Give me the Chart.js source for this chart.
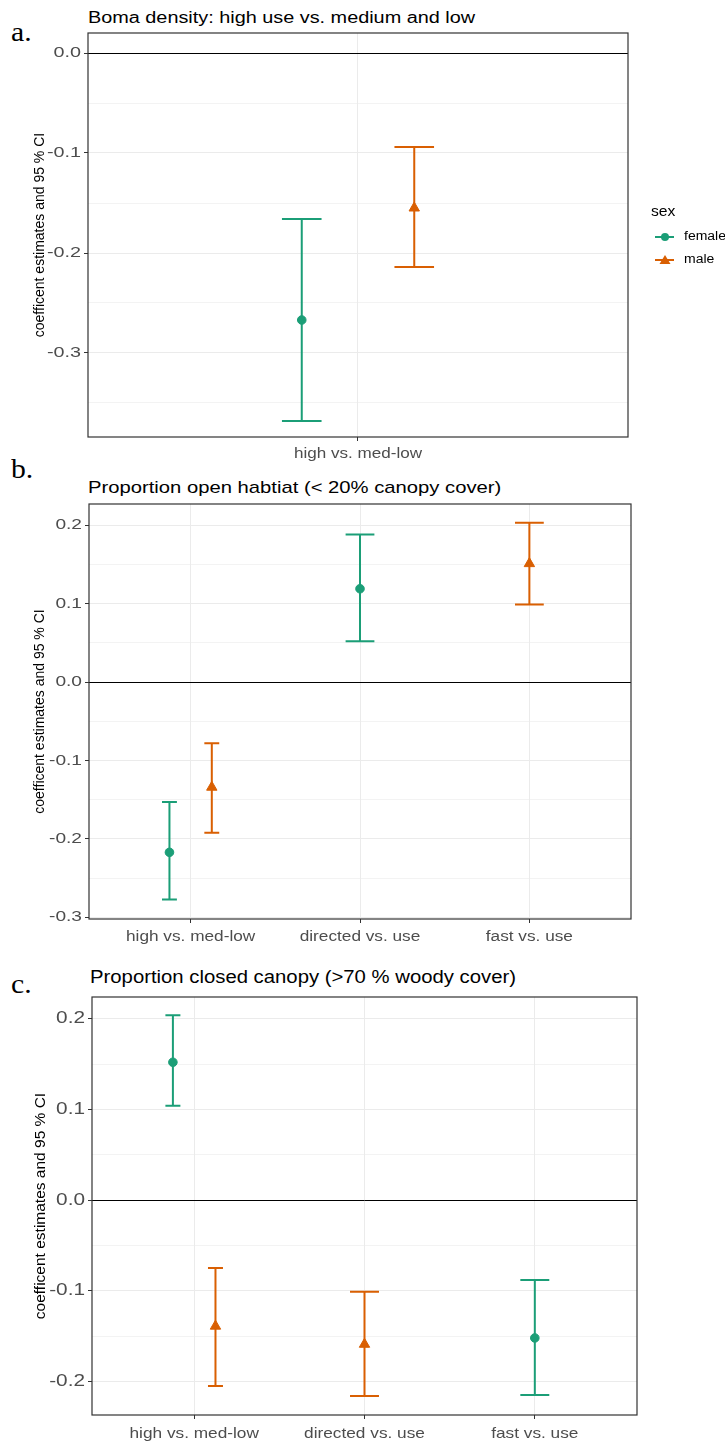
<!DOCTYPE html>
<html><head><meta charset="utf-8">
<script src="https://cdn.jsdelivr.net/npm/chart.js@4.4.1/dist/chart.umd.min.js"></script>
<style>
html,body{margin:0;padding:0;background:#fff;width:725px;height:1445px;overflow:hidden;position:relative;}
canvas{position:absolute;left:0;}
.lbl{position:absolute;font-family:'Liberation Serif','Times New Roman',serif;color:#000;line-height:1;transform-origin:0 0;transform:scaleX(1.1);}
.ttl{position:absolute;font-family:'Liberation Sans',Arial,sans-serif;color:#000;line-height:1;white-space:nowrap;transform-origin:0 0;}
</style></head><body>
<div class="lbl" style="left:11px;top:19px;font-size:27px">a.</div>
<div class="ttl" style="left:88px;top:10px;font-size:16px;transform:scaleX(1.24)">Boma density: high use vs. medium and low</div>
<div class="lbl" style="left:11px;top:456px;font-size:27px">b.</div>
<div class="ttl" style="left:88px;top:479px;font-size:17px;transform:scaleX(1.19)">Proportion open habtiat (&lt; 20% canopy cover)</div>
<div class="lbl" style="left:11px;top:971px;font-size:27px">c.</div>
<div class="ttl" style="left:90px;top:969px;font-size:17.5px;transform:scaleX(1.16)">Proportion closed canopy (&gt;70 % woody cover)</div>
<canvas id="ca" style="top:0" width="725" height="470"></canvas>
<canvas id="cb" style="top:470px" width="725" height="490"></canvas>
<canvas id="cc" style="top:960px" width="725" height="485"></canvas>
<script>
// ---------- data ----------
const catsA = ['high vs. med-low'];
const catsB = ['high vs. med-low', 'directed vs. use', 'fast vs. use'];
const catsC = ['high vs. med-low', 'directed vs. use', 'fast vs. use'];
const yTicksA = [-0.3, -0.2, -0.1, 0.0];
const yTicksB = [-0.3, -0.2, -0.1, 0.0, 0.1, 0.2];
const yTicksC = [-0.2, -0.1, 0.0, 0.1, 0.2];
const yRangeA = [-0.384, 0.020];
const yRangeB = [-0.302, 0.227];
const yRangeC = [-0.237, 0.224];
const seriesNames = ['female', 'male'];

// panel a: Boma density
const aFemaleCat = [0];
const aFemaleEst = [-0.267];
const aFemaleLo  = [-0.368];
const aFemaleHi  = [-0.166];
const aMaleCat = [0];
const aMaleEst = [-0.155];
const aMaleLo  = [-0.214];
const aMaleHi  = [-0.094];

// panel b: proportion open habitat
const bFemaleCat = [0, 1];
const bFemaleEst = [-0.217, 0.119];
const bFemaleLo  = [-0.277, 0.052];
const bFemaleHi  = [-0.153, 0.188];
const bMaleCat = [0, 2];
const bMaleEst = [-0.134, 0.151];
const bMaleLo  = [-0.192, 0.099];
const bMaleHi  = [-0.078, 0.203];

// panel c: proportion closed canopy
const cFemaleCat = [0, 2];
const cFemaleEst = [0.152, -0.152];
const cFemaleLo  = [0.104, -0.215];
const cFemaleHi  = [0.204, -0.088];
const cMaleCat = [0, 1];
const cMaleEst = [-0.139, -0.159];
const cMaleLo  = [-0.205, -0.216];
const cMaleHi  = [-0.075, -0.101];

// ---------- styling ----------
const GREEN = '#1B9E77', ORANGE = '#D95F02';
const SANS = "'Liberation Sans', Arial, sans-serif";
const AXIS_TITLE = 'coefficent estimates and 95 % CI';

// horizontally stretched text (the reference figure is widened)
const origFill = CanvasRenderingContext2D.prototype.fillText;
CanvasRenderingContext2D.prototype.fillText = function (text, x, y, maxWidth) {
  const st = this.__stretch;
  const m = this.getTransform();
  if (!st || Math.abs(m.b) > 1e-6 || Math.abs(m.c) > 1e-6) {
    return maxWidth === undefined ? origFill.call(this, text, x, y) : origFill.call(this, text, x, y, maxWidth);
  }
  const f = st[this.textAlign] || st.left;
  this.save(); this.translate(x, y); this.scale(f, 1);
  if (maxWidth === undefined) origFill.call(this, text, 0, 0); else origFill.call(this, text, 0, 0, maxWidth / f);
  this.restore();
};

function buildSeries(cat, est, lo, hi, otherCat, side) {
  const pts = [], los = [], his = [], caps = [];
  cat.forEach((c, i) => {
    const dodged = otherCat.includes(c);
    pts.push({ x: c + 1 + (dodged ? side * 0.125 : 0), y: est[i] });
    los.push(lo[i]); his.push(hi[i]);
    caps.push(dodged ? 0.044 : 0.085);
  });
  return { pts, los, his, caps };
}

const decoPlugin = {
  id: 'deco',
  beforeDatasetsDraw(chart) {
    const { ctx, chartArea: a, scales: { x, y } } = chart;
    ctx.save();
    const y0 = y.getPixelForValue(0);
    ctx.strokeStyle = '#000'; ctx.lineWidth = 1;
    ctx.beginPath(); ctx.moveTo(a.left, Math.round(y0) + 0.5); ctx.lineTo(a.right, Math.round(y0) + 0.5); ctx.stroke();
    chart.data.datasets.forEach(ds => {
      ctx.strokeStyle = ds.borderColor; ctx.lineWidth = 2;
      ds.data.forEach((p, i) => {
        const px = x.getPixelForValue(p.x);
        const yl = y.getPixelForValue(ds.errLo[i]);
        const yh = y.getPixelForValue(ds.errHi[i]);
        const xl = x.getPixelForValue(p.x - ds.errCap[i]);
        const xr = x.getPixelForValue(p.x + ds.errCap[i]);
        ctx.beginPath();
        ctx.moveTo(px, yl); ctx.lineTo(px, yh);
        ctx.moveTo(xl, yl); ctx.lineTo(xr, yl);
        ctx.moveTo(xl, yh); ctx.lineTo(xr, yh);
        ctx.stroke();
      });
    });
    ctx.restore();
  },
  afterDraw(chart) {
    const { ctx, chartArea: a } = chart;
    ctx.save();
    ctx.strokeStyle = '#333333'; ctx.lineWidth = 1.2;
    ctx.strokeRect(a.left, a.top, a.right - a.left, a.bottom - a.top);
    ctx.restore();
  }
};

const legendPlugin = {
  id: 'ggLegend',
  afterDraw(chart) {
    const ctx = chart.ctx;
    ctx.save();
    ctx.fillStyle = '#000';
    ctx.font = '14px ' + SANS;
    ctx.textAlign = 'left';
    ctx.textBaseline = 'middle';
    ctx.fillText('sex', 651, 212);
    const rows = [[seriesNames[0], GREEN, 'circle', 237], [seriesNames[1], ORANGE, 'triangle', 260]];
    rows.forEach(([name, col, shape, yy]) => {
      ctx.strokeStyle = col; ctx.fillStyle = col; ctx.lineWidth = 2;
      ctx.beginPath(); ctx.moveTo(655, yy); ctx.lineTo(674, yy); ctx.stroke();
      ctx.beginPath();
      if (shape === 'circle') { ctx.arc(665, yy, 4, 0, Math.PI * 2); }
      else { ctx.moveTo(665, yy - 5); ctx.lineTo(670.5, yy + 4); ctx.lineTo(659.5, yy + 4); ctx.closePath(); }
      ctx.fill();
      ctx.fillStyle = '#000'; ctx.font = '12.5px ' + SANS;
      ctx.fillText(name, 684, yy);
    });
    ctx.restore();
  }
};

function makePanel(id, cats, yTicks, yRange, F, M, L) {
  const fem = buildSeries(F.cat, F.est, F.lo, F.hi, M.cat, -1);
  const mal = buildSeries(M.cat, M.est, M.lo, M.hi, F.cat, +1);
  const [yMin, yMax] = yRange;
  const step = yTicks[1] - yTicks[0];
  const allTicks = [];
  yTicks.forEach(t => { allTicks.push({ v: t, major: true }); });
  [yTicks[0] - step / 2].concat(yTicks.map(t => t + step / 2)).forEach(t => {
    if (t >= yMin && t <= yMax) allTicks.push({ v: t, major: false });
  });
  allTicks.sort((p, q) => p.v - q.v);
  const isMajor = v => yTicks.some(t => Math.abs(t - v) < 1e-9);
  const canvas = document.getElementById(id);
  canvas.getContext('2d').__stretch = { right: L.yStretch, end: L.yStretch, center: L.xStretch, left: 1.12, start: 1.12 };
  const W = canvas.width, H = canvas.height;
  const plugins = [decoPlugin];
  if (L.legend) plugins.push(legendPlugin);
  return new Chart(canvas, {
    type: 'scatter',
    data: {
      datasets: [
        { label: seriesNames[0], data: fem.pts, errLo: fem.los, errHi: fem.his, errCap: fem.caps,
          pointStyle: 'circle', radius: 4.3, backgroundColor: GREEN, borderColor: GREEN, borderWidth: 1 },
        { label: seriesNames[1], data: mal.pts, errLo: mal.los, errHi: mal.his, errCap: mal.caps,
          pointStyle: 'triangle', radius: 6, backgroundColor: ORANGE, borderColor: ORANGE, borderWidth: 1 }
      ]
    },
    options: {
      responsive: false, animation: false,
      layout: { padding: { top: L.top, right: W - L.right, left: 0, bottom: 0 } },
      plugins: { legend: { display: false }, tooltip: { enabled: false }, title: { display: false } },
      scales: {
        x: {
          type: 'linear', min: 0.4, max: cats.length + 0.6,
          afterBuildTicks: s => { s.ticks = cats.map((c, i) => ({ value: i + 1 })); },
          afterFit: s => { s.height = H - L.bottom; },
          ticks: { callback: (v, i) => cats[i], color: '#4D4D4D', autoSkip: false, maxRotation: 0,
                   font: { family: SANS, size: L.xFont }, padding: L.xPad },
          grid: { color: '#EBEBEB', lineWidth: 1, tickLength: 4, tickColor: '#333333' },
          border: { display: false }
        },
        y: {
          min: yMin, max: yMax,
          afterBuildTicks: s => { s.ticks = allTicks.map(t => ({ value: t.v })); },
          afterFit: s => { s.width = L.left; },
          ticks: { callback: v => isMajor(v) ? v.toFixed(1).replace('-0.0', '0.0') : '', color: '#4D4D4D',
                   autoSkip: false, font: { family: SANS, size: L.yFont }, padding: 3 },
          grid: {
            color: '#EBEBEB',
            lineWidth: c => isMajor(c.tick.value) ? 1 : 0.6,
            tickLength: 4,
            tickColor: c => isMajor(c.tick.value) ? '#333333' : 'rgba(0,0,0,0)'
          },
          border: { display: false },
          title: { display: true, text: AXIS_TITLE, color: '#000', font: { family: SANS, size: L.tFont },
                   padding: { top: L.tPad, bottom: 0 } }
        }
      }
    },
    plugins
  });
}

makePanel('ca', catsA, yTicksA, yRangeA,
  { cat: aFemaleCat, est: aFemaleEst, lo: aFemaleLo, hi: aFemaleHi },
  { cat: aMaleCat, est: aMaleEst, lo: aMaleLo, hi: aMaleHi },
  { top: 33, right: 628, bottom: 437, left: 88, xFont: 14, xPad: 5, yFont: 15, yStretch: 1.32, xStretch: 1.22,
    tFont: 14, tPad: 31.5, legend: true });

makePanel('cb', catsB, yTicksB, yRangeB,
  { cat: bFemaleCat, est: bFemaleEst, lo: bFemaleLo, hi: bFemaleHi },
  { cat: bMaleCat, est: bMaleEst, lo: bMaleLo, hi: bMaleHi },
  { top: 34, right: 631, bottom: 449, left: 89, xFont: 14, xPad: 6, yFont: 14.5, yStretch: 1.32, xStretch: 1.23,
    tFont: 14, tPad: 31.5 });

makePanel('cc', catsC, yTicksC, yRangeC,
  { cat: cFemaleCat, est: cFemaleEst, lo: cFemaleLo, hi: cFemaleHi },
  { cat: cMaleCat, est: cMaleEst, lo: cMaleLo, hi: cMaleHi },
  { top: 37, right: 637, bottom: 455, left: 92, xFont: 15, xPad: 6, yFont: 16, yStretch: 1.3, xStretch: 1.15,
    tFont: 15.5, tPad: 31.5 });
</script>
</body></html>
